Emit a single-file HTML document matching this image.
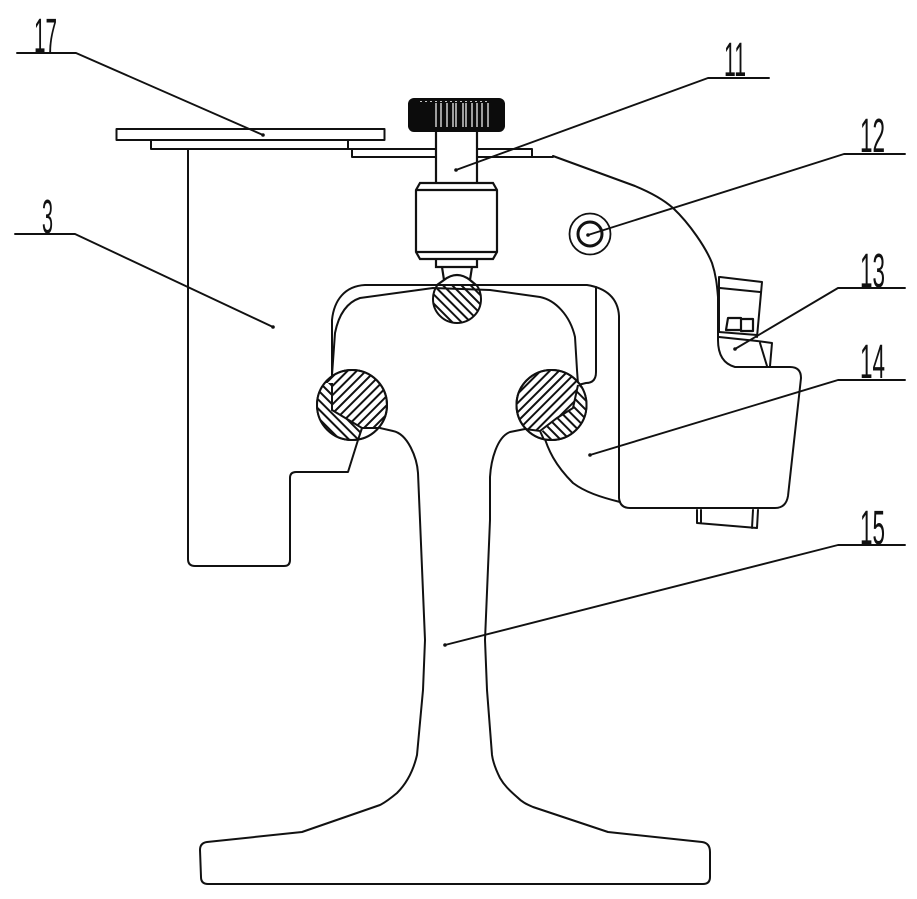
<!DOCTYPE html>
<html>
<head>
<meta charset="utf-8">
<style>
html,body{margin:0;padding:0;background:#fff;width:917px;height:899px;overflow:hidden}
svg{display:block}
text{font-family:"Liberation Sans",sans-serif;font-size:48px;fill:#111}
</style>
</head>
<body>
<svg width="917" height="899" viewBox="0 0 917 899" xmlns="http://www.w3.org/2000/svg">
<defs>
<pattern id="h1" width="6.5" height="6.5" patternUnits="userSpaceOnUse" patternTransform="rotate(45)">
<rect width="6.5" height="6.5" fill="#fff"/><rect x="0" y="0" width="2" height="6.5" fill="#111"/>
</pattern>
<pattern id="h2" width="6.5" height="6.5" patternUnits="userSpaceOnUse" patternTransform="rotate(-45)">
<rect width="6.5" height="6.5" fill="#fff"/><rect x="0" y="0" width="2" height="6.5" fill="#111"/>
</pattern>
<clipPath id="cL"><circle cx="352" cy="405" r="35"/></clipPath>
<clipPath id="cR"><circle cx="551.5" cy="405" r="35"/></clipPath>
<clipPath id="cB"><rect x="425" y="284" width="65" height="50"/></clipPath>
</defs>
<rect width="917" height="899" fill="#fff"/>
<!-- ball -->
<g clip-path="url(#cB)">
<circle cx="457" cy="299" r="24" fill="url(#h2)" stroke="#111" stroke-width="2"/>
</g>
<g fill="none" stroke="#111" stroke-width="2" stroke-linejoin="round" stroke-linecap="round">
<!-- plates -->
<rect x="116.5" y="129" width="268" height="11"/>
<path d="M151 140V149H348V140"/>
<path d="M348 149H436M352 149V157H436"/>
<path d="M477 149H532V157M477 157H553"/>
<!-- body 3 -->
<path d="M188 149V559Q188 566 195 566H284Q290 566 290 560V478Q290 472 296 472H348L358 440"/>
<!-- body right outline -->
<path d="M553 156L635 186C652 193 664 200 673 208C690 224 706 248 712 263C716 275 717 285 718 297V340C718 355 724 364 735 367H790Q801 367 801 378L788 496Q786 508 775 508H630Q620 508 619 498V316C618 298 606 288 587 285H365C345 286 334 300 332 320V384"/>
<!-- inner head curve -->
<path d="M332 407V375L335 333C338 318 345 303 360 298L433 288L490 290L540 297C555 300 570 315 575 337L577 370L578 384"/>
<path d="M596 287V372Q596 383 586 383L578 385"/>
<!-- rail -->
<path d="M380 428L393 431C408 434 417 458 418 473L420 520L425 640L423 690L417 755C414 768 408 782 397 793C391 798 386 802 380 805L302 832L207 842Q200 843 200 850L201 877Q201 884 208 884H703Q710 884 710 877V852Q710 843 702 842L608 832L533 807C526 804 522 802 517 797C509 790 504 785 500 778C496 770 493 762 492 755L487 690L485 640L490 520V477C491 460 497 437 510 432L525 429"/>
<!-- part 14 lower curve -->
<path d="M543 433C548 450 555 465 573 483C585 492 600 497 620 502"/>
<!-- part 13 -->
<path d="M720 277L762 282L757 337M720 288L760 292M719 277V332L757 335M719 337L757 341L772 343L770 366M760 343L767 366"/>
<path d="M726 330L728 318H741V330H726M741 319H753V331H741" stroke-width="2.2"/>
<!-- bottom piece -->
<path d="M697 510V523L757 528L758 510M701 510V523M753 510L752 528"/>
</g>
<!-- hatched circles -->
<g stroke="#111" stroke-width="2">
<circle cx="352" cy="405" r="35" fill="url(#h1)"/>
<g clip-path="url(#cL)">
<path d="M310 383H332V410L362 428L358 445H310Z" fill="url(#h2)" stroke="none"/>
<path d="M362 428L385 428L358 445Z" fill="#fff" stroke="none"/>
<path d="M332 383V410L362 428L380 428M362 428L358 440" fill="none"/>
</g>
<circle cx="352" cy="405" r="35" fill="none"/>
<circle cx="551.5" cy="405" r="35" fill="url(#h1)"/>
<g clip-path="url(#cR)">
<path d="M578 385L590 385V445H540L540 433L557 418L573 408Z" fill="url(#h2)" stroke="none"/>
<path d="M525 429L540 430L545 445H520Z" fill="#fff" stroke="none"/>
<path d="M525 429L540 431L557 418L573 408L578 385M540 431L545 442" fill="none"/>
</g>
<circle cx="551.5" cy="405" r="35" fill="none"/>
</g>
<!-- screw -->
<rect x="436" y="132" width="41" height="51" fill="#fff"/>
<g fill="none" stroke="#111" stroke-width="2.2">
<path d="M436 132V183M477 132V183"/>
<path d="M420 183H493L497 190V252L493 259H420L416 252V190Z" fill="#fff"/>
<path d="M416 190H497M416 252H497"/>
<path d="M436 259V267H477V259M436 267H477"/>
<path d="M442 267L444 280L437 285M472 267L470 280L476 285M444 280Q457 270 470 280"/>
</g>
<!-- knob -->
<rect x="408" y="98" width="97" height="34" rx="6" fill="#0c0c0c"/>
<g stroke="#fff" stroke-width="1.2">
<path d="M436 103V127M441 103V127M447 103V127M453 103V127M456 103V127M463 103V127M466 103V127M472 103V127M477 103V127M482 103V127M488 103V127"/>
<path d="M420 101.5H490" stroke-dasharray="2 3" stroke-width=".8"/>
</g>
<!-- ring 12 -->
<circle cx="590" cy="234" r="20.5" fill="#fff" stroke="#111" stroke-width="1.8"/>
<circle cx="590" cy="234" r="12" fill="#fff" stroke="#111" stroke-width="3"/>
<!-- leaders -->
<g fill="none" stroke="#111" stroke-width="1.9" stroke-linecap="round" stroke-linejoin="round">
<path d="M17 53H76L263 135"/>
<path d="M15 234H75L273 327"/>
<path d="M769 78H708L456 170"/>
<path d="M905 154H844L588 235"/>
<path d="M905 288H838L735 349"/>
<path d="M905 380H838L590 455"/>
<path d="M905 545H838L445 645"/>
</g>
<g fill="#111">
<circle cx="263" cy="135" r="1.8"/><circle cx="273" cy="327" r="1.8"/><circle cx="456" cy="170" r="1.8"/>
<circle cx="588" cy="235" r="1.8"/><circle cx="735" cy="349" r="1.8"/><circle cx="590" cy="455" r="1.8"/><circle cx="445" cy="645" r="1.8"/>
</g>
<!-- labels -->
<text x="34" y="52" textLength="23" lengthAdjust="spacingAndGlyphs">17</text>
<text x="42" y="233" textLength="11" lengthAdjust="spacingAndGlyphs">3</text>
<text x="724" y="76" textLength="22" lengthAdjust="spacingAndGlyphs">11</text>
<text x="860" y="152" textLength="25" lengthAdjust="spacingAndGlyphs">12</text>
<text x="860" y="287" textLength="25" lengthAdjust="spacingAndGlyphs">13</text>
<text x="860" y="378" textLength="25" lengthAdjust="spacingAndGlyphs">14</text>
<text x="860" y="544" textLength="25" lengthAdjust="spacingAndGlyphs">15</text>
</svg>
</body>
</html>
